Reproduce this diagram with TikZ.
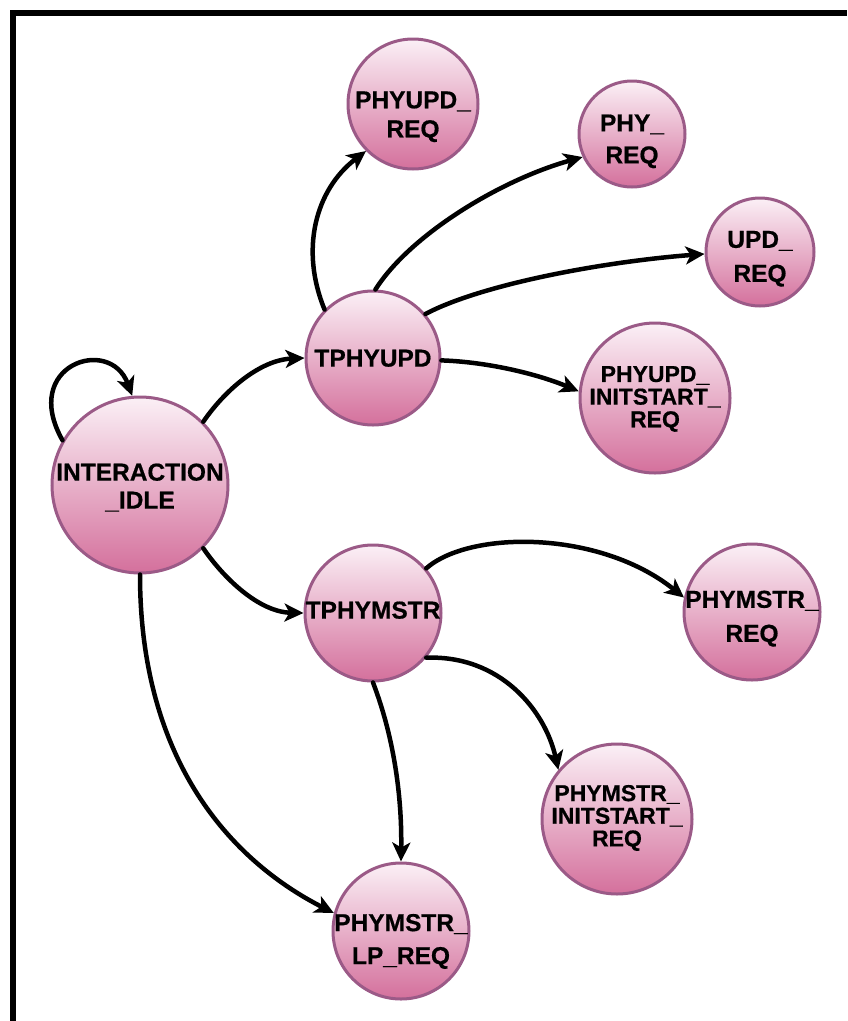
\documentclass[tikz,border=0pt]{standalone}
\usepackage{fontspec}
\setmainfont{Liberation Sans}
\newfontfamily\statefont[BoldFeatures={FakeBold=0.6}]{Liberation Sans}
\usetikzlibrary{arrows.meta}
\definecolor{stateedge}{RGB}{155,90,135}
\definecolor{statetop}{RGB}{251,240,246}
\definecolor{statebottom}{RGB}{212,112,156}
% state caption: size, leading, vertical offset, lines (width kept out of the node size)
\newcommand{\stcap}[4]{\makebox[0pt]{\raisebox{#3}[\height][\depth]{\fontsize{#1}{#2}\selectfont
  \begin{tabular}{@{}c@{}}#4\end{tabular}}}}
\begin{document}
\begin{tikzpicture}[x=1pt,y=-1pt,
  state/.style={circle, draw=stateedge, line width=3pt,
    top color=statetop, bottom color=statebottom,
    inner sep=0pt, font=\statefont\bfseries},
  trans/.style={line width=4.5pt, line cap=round,
    -{Stealth[length=19pt,width=18pt,inset=5pt]}}]
\useasboundingbox (0,0) rectangle (847,1021);

% frame
\draw[line width=6pt] (12.5,1021) -- (12.5,12.5) -- (847,12.5);

% states
\node[state, minimum size=176pt] (idle)   at (140,485) {\stcap{24.5}{28}{-4pt}{INTERACTION\\\_IDLE}};
\node[state, minimum size=134pt] (tupd)   at (373,358) {\stcap{24.5}{28}{-3pt}{TPHYUPD}};
\node[state, minimum size=130pt] (updreq) at (413,104) {\stcap{24.5}{29}{-13pt}{PHYUPD\_\\REQ}};
\node[state, minimum size=106pt] (phyreq) at (632,134) {\stcap{24.5}{32}{-7pt}{PHY\_\\REQ}};
\node[state, minimum size=108pt] (ureq)   at (760,252) {\stcap{24.5}{34}{-6pt}{UPD\_\\REQ}};
\node[state, minimum size=150pt] (uinit)  at (655,398) {\stcap{23}{22}{-2pt}{PHYUPD\_\\INITSTART\_\\REQ}};
\node[state, minimum size=136pt] (tmstr)  at (373,613) {\stcap{24.5}{28}{0pt}{TPHYMSTR}};
\node[state, minimum size=136pt] (mreq)   at (752,612) {\stcap{24.5}{34}{-6pt}{PHYMSTR\_\\REQ}};
\node[state, minimum size=150pt] (minit)  at (617,819) {\stcap{23}{22}{0pt}{PHYMSTR\_\\INITSTART\_\\REQ}};
\node[state, minimum size=136pt] (lpreq)  at (401,931) {\stcap{24.5}{33}{-10pt}{PHYMSTR\_\\LP\_REQ}};

% transitions
\draw[trans] (idle.150) .. controls (20,365) and (110,335) .. (idle.95);
\draw[trans] (idle.45) .. controls (225,390) and (260,360) .. (tupd.west);
\draw[trans] (idle.-45) .. controls (225,580) and (260,612) .. (tmstr.west);
\draw[trans] (idle.-90) .. controls (140,760) and (230,860) .. (lpreq.165);

\draw[trans] (tupd.135) .. controls (300,250) and (315,190) .. (updreq.225);
\draw[trans] (tupd.88) .. controls (410,235) and (500,180) .. (phyreq.205);
\draw[trans] (tupd.40) .. controls (480,285) and (600,262) .. (ureq.182);
\draw[trans] (tupd.-2) .. controls (490,362) and (540,375) .. (uinit.175);

\draw[trans] (tmstr.40) .. controls (470,530) and (600,530) .. (mreq.168);
\draw[trans] (tmstr.-40) .. controls (500,655) and (545,710) .. (minit.140);
\draw[trans] (tmstr.-90) .. controls (395,740) and (402,800) .. (lpreq.north);
\end{tikzpicture}
\end{document}
